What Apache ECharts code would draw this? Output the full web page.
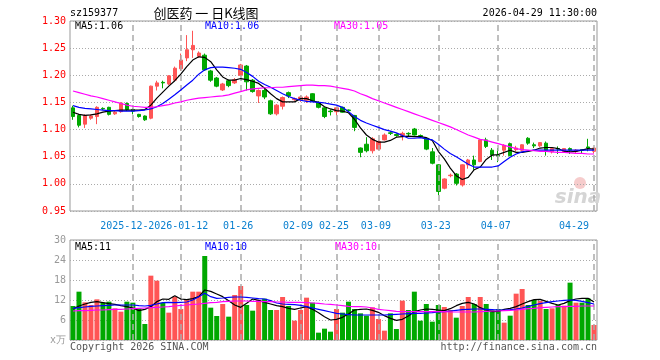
<!DOCTYPE html>
<html><head><meta charset="utf-8">
<script src="https://cdn.jsdelivr.net/npm/echarts@6/dist/echarts.min.js"></script>
<style>html,body{margin:0;padding:0;background:#fff}#c{width:660px;height:360px}</style>
</head><body><div id="c"></div>
<script>
const dates = [
'2025-12-15','2025-12-16','2025-12-17','2025-12-18','2025-12-19','2025-12-22','2025-12-23','2025-12-24','2025-12-25','2025-12-26',
'2025-12-29','2025-12-30','2025-12-31','2026-01-05','2026-01-06','2026-01-07','2026-01-08','2026-01-09','2026-01-12','2026-01-13',
'2026-01-14','2026-01-15','2026-01-16','2026-01-19','2026-01-20','2026-01-21','2026-01-22','2026-01-23','2026-01-26','2026-01-27',
'2026-01-28','2026-01-29','2026-01-30','2026-02-02','2026-02-03','2026-02-04','2026-02-05','2026-02-06','2026-02-09','2026-02-10',
'2026-02-11','2026-02-12','2026-02-13','2026-02-24','2026-02-25','2026-02-26','2026-03-02','2026-03-03','2026-03-04','2026-03-05',
'2026-03-06','2026-03-09','2026-03-10','2026-03-11','2026-03-12','2026-03-13','2026-03-16','2026-03-17','2026-03-18','2026-03-19',
'2026-03-20','2026-03-23','2026-03-24','2026-03-25','2026-03-26','2026-03-27','2026-03-30','2026-03-31','2026-04-01','2026-04-02',
'2026-04-03','2026-04-07','2026-04-08','2026-04-09','2026-04-10','2026-04-13','2026-04-14','2026-04-15','2026-04-16','2026-04-17',
'2026-04-20','2026-04-21','2026-04-22','2026-04-23','2026-04-24','2026-04-27','2026-04-28','2026-04-29'];

const openP = [
1.140,1.126,1.110,1.121,1.124,1.139,1.141,1.129,1.133,1.148,
1.137,1.128,1.125,1.121,1.180,1.187,1.184,1.191,1.212,1.232,
1.247,1.235,1.237,1.208,1.195,1.173,1.190,1.186,1.200,1.217,
1.191,1.162,1.172,1.153,1.129,1.143,1.168,1.155,1.155,1.154,
1.166,1.150,1.140,1.134,1.133,1.141,1.136,1.126,1.066,1.073,
1.061,1.064,1.081,1.094,1.091,1.089,1.093,1.101,1.089,1.084,
1.059,1.035,0.992,1.015,1.018,0.998,1.035,1.044,1.041,1.081,
1.062,1.053,1.062,1.074,1.063,1.062,1.084,1.072,1.070,1.075,
1.059,1.065,1.059,1.065,1.060,1.063,1.068,1.060];
const closeP = [
1.124,1.108,1.126,1.125,1.141,1.138,1.128,1.132,1.149,1.137,
1.134,1.124,1.118,1.180,1.186,1.186,1.199,1.213,1.228,1.247,
1.255,1.241,1.210,1.191,1.180,1.184,1.181,1.192,1.219,1.188,
1.170,1.172,1.160,1.129,1.145,1.159,1.162,1.157,1.160,1.160,
1.153,1.141,1.124,1.133,1.140,1.132,1.135,1.104,1.058,1.061,
1.083,1.078,1.090,1.093,1.089,1.093,1.092,1.090,1.087,1.064,
1.038,0.986,1.009,1.016,1.001,1.035,1.044,1.035,1.081,1.069,
1.053,1.052,1.071,1.052,1.066,1.072,1.075,1.070,1.076,1.062,
1.065,1.064,1.065,1.062,1.062,1.062,1.066,1.066];
const lowP = [
1.118,1.104,1.103,1.118,1.110,1.136,1.126,1.127,1.131,1.134,
1.128,1.122,1.116,1.119,1.172,1.176,1.182,1.189,1.208,1.226,
1.232,1.232,1.208,1.188,1.178,1.171,1.178,1.184,1.198,1.172,
1.168,1.149,1.156,1.127,1.126,1.137,1.158,1.153,1.151,1.149,
1.151,1.139,1.121,1.126,1.126,1.131,1.133,1.097,1.049,1.058,
1.056,1.062,1.080,1.090,1.087,1.080,1.088,1.089,1.085,1.062,
1.036,0.979,0.990,1.012,0.997,0.995,1.028,1.026,1.040,1.066,
1.044,1.040,1.052,1.051,1.060,1.060,1.072,1.066,1.068,1.052,
1.056,1.055,1.057,1.055,1.056,1.056,1.060,1.056];
const highP = [
1.144,1.128,1.128,1.128,1.143,1.141,1.142,1.135,1.150,1.150,
1.139,1.129,1.126,1.181,1.190,1.190,1.200,1.216,1.240,1.274,
1.282,1.244,1.240,1.210,1.197,1.186,1.192,1.195,1.221,1.219,
1.193,1.174,1.178,1.155,1.147,1.161,1.170,1.159,1.163,1.163,
1.167,1.152,1.141,1.137,1.141,1.142,1.137,1.127,1.067,1.086,
1.086,1.080,1.093,1.097,1.093,1.096,1.095,1.103,1.091,1.086,
1.066,1.036,1.010,1.019,1.020,1.036,1.046,1.052,1.082,1.085,
1.066,1.066,1.073,1.076,1.070,1.073,1.086,1.076,1.077,1.078,
1.066,1.069,1.066,1.067,1.064,1.064,1.083,1.068];

const ma5 = [
1.132,1.128,1.126,1.127,1.129,1.132,1.134,1.135,1.136,1.136,
1.136,1.136,1.137,1.145,1.158,1.169,1.180,1.190,1.202,1.216,
1.228,1.234,1.233,1.225,1.210,1.197,1.191,1.191,1.194,1.192,
1.189,1.185,1.176,1.166,1.157,1.151,1.151,1.151,1.157,1.157,
1.153,1.150,1.142,1.138,1.135,1.134,1.131,1.119,1.103,1.090,
1.082,1.077,1.077,1.080,1.086,1.087,1.088,1.087,1.087,1.085,
1.080,1.060,1.046,1.029,1.015,1.008,1.012,1.026,1.031,1.045,
1.053,1.054,1.058,1.062,1.058,1.058,1.060,1.062,1.066,1.067,
1.067,1.065,1.060,1.059,1.060,1.062,1.065,1.064];
const ma10 = [
1.144,1.141,1.139,1.138,1.137,1.136,1.135,1.135,1.134,1.134,
1.134,1.135,1.136,1.138,1.142,1.148,1.156,1.164,1.173,1.182,
1.191,1.202,1.210,1.214,1.215,1.215,1.214,1.213,1.211,1.205,
1.198,1.189,1.183,1.178,1.172,1.166,1.161,1.157,1.154,1.152,
1.151,1.150,1.149,1.147,1.145,1.141,1.133,1.124,1.117,1.112,
1.108,1.104,1.100,1.097,1.094,1.089,1.084,1.084,1.085,1.083,
1.081,1.073,1.064,1.056,1.050,1.043,1.036,1.031,1.031,1.031,
1.031,1.033,1.041,1.049,1.055,1.059,1.061,1.062,1.062,1.062,
1.062,1.062,1.062,1.062,1.062,1.062,1.062,1.062];
const ma30 = [
1.171,1.168,1.165,1.162,1.160,1.157,1.154,1.151,1.148,1.145,
1.143,1.142,1.141,1.141,1.142,1.144,1.146,1.149,1.151,1.154,
1.156,1.158,1.159,1.160,1.161,1.162,1.164,1.167,1.170,1.173,
1.175,1.176,1.177,1.177,1.178,1.178,1.179,1.180,1.181,1.182,
1.182,1.181,1.181,1.180,1.178,1.176,1.174,1.171,1.166,1.162,
1.157,1.153,1.149,1.145,1.141,1.137,1.133,1.129,1.125,1.121,
1.117,1.113,1.109,1.105,1.100,1.095,1.090,1.086,1.082,1.080,
1.077,1.074,1.071,1.068,1.065,1.063,1.062,1.061,1.060,1.060,
1.059,1.058,1.058,1.057,1.056,1.056,1.055,1.055];

const volume = [
10.2,14.5,11.3,10.5,12.2,11.2,11.5,9.5,8.5,11.5,
11.2,9.5,4.8,19.3,17.8,11.2,8.2,13.0,9.3,12.3,
14.5,14.5,25.2,9.7,7.2,10.8,7.0,13.5,16.2,10.5,
8.8,12.0,12.4,9.0,9.0,12.9,10.2,5.8,9.0,12.7,
11.2,2.2,3.4,2.5,9.3,8.2,11.5,9.3,8.0,7.3,
9.8,6.3,2.8,8.0,3.3,11.8,9.0,14.5,5.8,10.8,
5.5,10.5,9.9,9.0,6.7,10.2,12.9,10.8,12.9,10.8,
9.0,9.3,5.2,7.3,13.9,15.3,10.5,12.0,11.7,9.3,
9.5,10.5,10.3,17.2,11.2,11.2,12.5,4.5];
const vma5 = [
9.3,10.2,10.8,11.3,11.5,11.2,10.9,10.7,10.3,10.0,
9.6,8.8,9.2,10.0,11.5,12.3,12.2,13.3,12.3,12.1,
12.4,13.0,15.0,14.6,13.8,13.0,11.8,10.5,9.8,11.0,
12.3,11.9,11.3,10.8,10.3,10.0,9.5,9.2,9.6,10.0,
9.2,8.2,7.0,6.0,6.2,6.8,7.8,9.0,9.2,9.3,
8.9,8.3,7.3,6.5,5.9,6.2,7.2,8.5,9.0,9.3,
9.2,9.0,8.8,9.4,10.3,11.0,11.3,10.8,9.7,9.0,
8.5,8.6,9.2,9.5,10.0,10.8,11.5,12.1,12.2,11.6,
11.0,10.5,11.0,11.8,12.3,12.5,12.5,11.4];
const vma10 = [
9.5,9.7,9.9,10.1,10.2,10.3,10.4,10.5,10.5,10.5,
10.5,10.3,10.2,10.4,10.8,11.2,11.3,11.2,11.3,11.4,
12.0,13.0,14.0,13.0,12.5,12.6,12.8,12.9,12.9,12.8,
12.6,12.4,12.3,11.8,11.1,10.8,10.7,10.6,10.4,10.0,
9.6,9.2,8.8,8.4,8.0,7.8,7.6,7.5,7.5,7.5,
7.5,7.5,7.5,7.6,7.7,7.8,7.9,8.0,8.0,8.1,
8.2,8.4,8.5,8.7,8.9,9.1,9.2,9.3,9.3,9.2,
9.1,9.0,9.0,9.1,9.3,9.6,10.1,10.5,10.9,11.2,
11.5,11.7,11.9,12.0,11.9,11.6,11.2,10.8];
const vma30 = [
8.7,8.8,8.8,8.9,9.0,9.0,9.1,9.2,9.2,9.3,
9.4,9.5,9.6,9.7,9.8,9.9,10.0,10.2,10.4,10.5,
10.7,10.8,11.0,11.2,11.3,11.5,11.6,11.7,11.7,11.7,
11.6,11.6,11.5,11.5,11.4,11.4,11.3,11.3,11.3,11.2,
11.1,11.0,10.8,10.7,10.5,10.3,10.1,10.0,10.0,9.9,
9.6,9.2,9.0,8.8,8.6,8.5,8.5,8.5,8.5,8.5,
8.5,8.5,8.5,8.4,8.4,8.4,8.4,8.4,8.5,8.6,
8.7,8.7,8.8,8.9,9.0,9.2,9.4,9.5,9.7,9.8,
9.9,10.0,10.0,10.1,10.1,10.2,10.2,10.2];

const labelDates = ['2025-12-29','2026-01-12','2026-01-26','2026-02-09','2026-02-25','2026-03-09','2026-03-23','2026-04-07','2026-04-29'];
const fullLabelDates = ['2025-12-29','2026-01-12'];
const topLabelDate = '2026-01-12';
const priceLegend = ['MA5:1.06','MA10:1.06','MA30:1.05'];
const volLegend = ['MA5:11','MA10:10','MA30:10'];

const MONO = '"DejaVu Sans Mono","Liberation Mono",monospace';
const RED = '#ff5555', GREEN = '#00a800';
const chart = echarts.init(document.getElementById('c'));
const candleData = dates.map((d, i) => [openP[i], closeP[i], lowP[i], highP[i]]);
const volData = volume.map((v, i) => ({ value: v, itemStyle: { color: closeP[i] > openP[i] ? RED : GREEN } }));
// Sina draws its date grid lines a little left of the candle centre
const vLines = () => ({
  silent: true, symbol: ['none', 'none'], label: { show: false }, animation: false,
  lineStyle: { color: '#aaa', type: [6, 4], width: 1.5 },
  emphasis: { disabled: true },
  data: labelDates.map(d => ({ xAxis: dates.indexOf(d) - 0.42 }))
});
const maLine = (data, color, xi, yi) => ({
  type: 'line', data, xAxisIndex: xi, yAxisIndex: yi, symbol: 'none', showSymbol: false,
  lineStyle: { color, width: 1.2 }, silent: true, z: 5
});
const txt = (text, x, y, fill, align, font) => ({
  type: 'text', x, y, silent: true,
  style: { text, fill, align: align || 'left', verticalAlign: 'middle', font: font || ('10px ' + MONO) }
});
const dateLabel = (filter) => ({
  interval: (i, v) => filter(v),
  formatter: v => fullLabelDates.includes(v) ? v : v.slice(5),
  color: '#0b80d0', fontFamily: MONO, fontSize: 10, margin: 10,
  backgroundColor: '#fff', padding: [0, 5, 0, 0], alignMaxLabel: 'right', hideOverlap: false
});

chart.setOption({
  animation: false,
  backgroundColor: '#fff',
  grid: [
    { left: 70, top: 21, width: 527, height: 190, show: true, borderColor: '#999', borderWidth: 1 },
    { left: 70, top: 240, width: 527, height: 100, show: true, borderColor: '#999', borderWidth: 1 }
  ],
  xAxis: [
    { type: 'category', data: dates, gridIndex: 0, boundaryGap: true, position: 'bottom',
      axisLine: { show: false }, axisTick: { show: false }, splitLine: { show: false },
      axisLabel: dateLabel(v => labelDates.includes(v) && v !== topLabelDate) },
    { type: 'category', data: dates, gridIndex: 1, boundaryGap: true,
      axisLine: { show: false }, axisTick: { show: false }, axisLabel: { show: false }, splitLine: { show: false } },
    { type: 'category', data: dates, gridIndex: 0, boundaryGap: true, position: 'bottom', z: 3,
      axisLine: { show: false }, axisTick: { show: false }, splitLine: { show: false },
      axisLabel: dateLabel(v => v === topLabelDate) }
  ],
  yAxis: [
    { type: 'value', gridIndex: 0, min: 0.95, max: 1.30, interval: 0.05,
      axisLine: { show: false }, axisTick: { show: false },
      axisLabel: { color: '#ff0000', fontFamily: MONO, fontSize: 10, margin: 4, formatter: v => v.toFixed(2) },
      splitLine: { show: true, lineStyle: { color: '#aaa', type: [1, 2], width: 1 } } },
    { type: 'value', gridIndex: 1, min: 0, max: 30, interval: 6,
      axisLine: { show: false }, axisTick: { show: false },
      axisLabel: { color: '#999', fontFamily: MONO, fontSize: 10, margin: 4, formatter: v => v === 0 ? 'x万' : String(v) },
      splitLine: { show: true, lineStyle: { color: '#aaa', type: [1, 2], width: 1 } } }
  ],
  series: [
    { type: 'candlestick', data: candleData, xAxisIndex: 0, yAxisIndex: 0, barWidth: 4, silent: true,
      itemStyle: { color: RED, color0: GREEN, borderColor: RED, borderColor0: GREEN, borderWidth: 1 },
      markLine: vLines() },
    maLine(ma5, '#000000', 0, 0),
    maLine(ma10, '#0000ff', 0, 0),
    maLine(ma30, '#ff00ff', 0, 0),
    { type: 'bar', data: volData, xAxisIndex: 1, yAxisIndex: 1, barWidth: 5, silent: true, markLine: vLines() },
    maLine(vma5, '#000000', 1, 1),
    maLine(vma10, '#0000ff', 1, 1),
    maLine(vma30, '#ff00ff', 1, 1)
  ],
  graphic: [
    txt('sz159377', 70, 13, '#000'),
    txt('创医药 一 日K线图', 206, 13, '#000', 'center', '13px "Noto Sans CJK SC"'),
    txt('2026-04-29 11:30:00', 597, 13, '#000', 'right'),
    txt(priceLegend[0], 75, 26, '#000'),
    txt(priceLegend[1], 205, 26, '#0000ff'),
    txt(priceLegend[2], 334, 26, '#ff00ff'),
    txt(volLegend[0], 75, 247, '#000'),
    txt(volLegend[1], 205, 247, '#0000ff'),
    txt(volLegend[2], 335, 247, '#ff00ff'),
    txt('Copyright 2026 SINA.COM', 70, 347, '#555'),
    txt('http://finance.sina.com.cn', 597, 347, '#555', 'right'),
    { type: 'circle', shape: { cx: 580, cy: 183, r: 6 }, silent: true, style: { fill: '#f6cccc' } },
    txt('sina', 578, 198, '#d5d5d5', 'center', 'italic bold 20px "DejaVu Sans"')
  ]
});
</script></body></html>
